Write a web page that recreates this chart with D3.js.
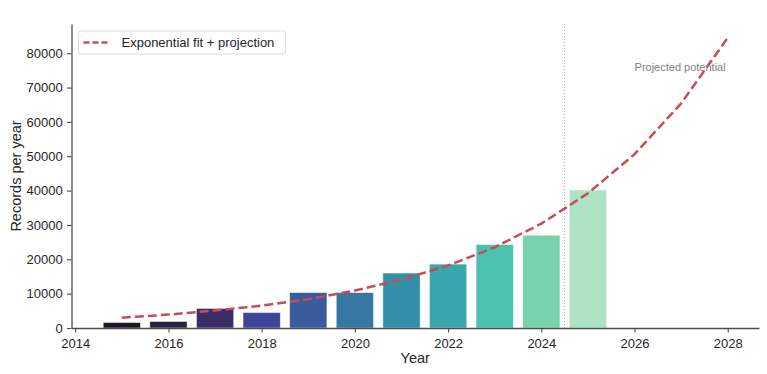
<!DOCTYPE html>
<html>
<head>
<meta charset="utf-8">
<script src="https://cdn.jsdelivr.net/npm/d3@7"></script>
<style>
  body { margin: 0; background: #fff; }
  text { font-family: "Liberation Sans", Arial, sans-serif; }
</style>
</head>
<body>
<div id="chart"></div>
<script>
// data
var years = [2015, 2016, 2017, 2018, 2019, 2020, 2021, 2022, 2023, 2024, 2025]
var records = [1600, 1900, 5700, 4500, 10300, 10300, 16000, 18600, 24300, 27000, 40200]
var fitYears = [2015, 2016, 2017, 2018, 2019, 2020, 2021, 2022, 2023, 2024, 2025, 2026, 2027, 2028]
var fitValues = [3000, 3900, 5100, 6500, 8400, 10900, 14100, 18200, 23500, 30400, 39200, 50600, 65400, 84500]
var xTicks = [2014, 2016, 2018, 2020, 2022, 2024, 2026, 2028]
var yTicks = [0, 10000, 20000, 30000, 40000, 50000, 60000, 70000, 80000]
var cutoffYear = 2024.5
var legendLabel = "Exponential fit + projection"
var noteLabel = "Projected potential"

var barColors = ["#1e1626", "#2b2140", "#3b2d6a", "#3c4598", "#3a5c9e", "#3778a2",
                 "#338fa8", "#38a6ac", "#4bc2ae", "#76d3ae", "#ade3c4"]

var W = 767, H = 374
var margin = {top: 24, right: 8, bottom: 46, left: 71.5}
var width = W - margin.left - margin.right,
    height = H - margin.top - margin.bottom

var svg = d3.select("#chart").append("svg")
    .attr("width", W).attr("height", H)
  .append("g")
    .attr("transform", "translate(" + margin.left + "," + margin.top + ")")

var x = d3.scaleLinear().domain([2013.92, 2028.67]).range([0, width])
var y = d3.scaleLinear().domain([0, 88500]).range([height, 0])

// bars
svg.selectAll("rect.bar")
  .data(years)
  .enter().append("rect")
    .attr("class", "bar")
    .attr("x", function(d) { return x(d - 0.4) })
    .attr("width", x(0.8) - x(0))
    .attr("y", function(d, i) { return y(records[i]) })
    .attr("height", function(d, i) { return height - y(records[i]) })
    .attr("fill", function(d, i) { return barColors[i] })
    .attr("stroke", "#ffffff")
    .attr("stroke-opacity", 0.6)
    .attr("stroke-width", 0.8)

// cutoff line
svg.append("line")
  .attr("x1", x(cutoffYear)).attr("x2", x(cutoffYear))
  .attr("y1", 0).attr("y2", height)
  .attr("stroke", "#aaaaaa").attr("stroke-width", 1)
  .attr("stroke-dasharray", "1,2")

// fit line
var line = d3.line()
  .x(function(d, i) { return x(fitYears[i]) })
  .y(function(d) { return y(d) })

svg.append("path")
  .datum(fitValues)
  .attr("d", line)
  .attr("fill", "none")
  .attr("stroke", "#c44e52")
  .attr("stroke-width", 2.5)
  .attr("stroke-dasharray", "9,4")

svg.append("text")
  .attr("x", x(2026)).attr("y", y(76000))
  .attr("dy", "0.35em")
  .attr("font-size", "11px")
  .attr("fill", "#808080")
  .text(noteLabel)

// axes
var xAxis = svg.append("g")
  .attr("transform", "translate(0," + height + ")")
  .call(d3.axisBottom(x).tickValues(xTicks).tickFormat(d3.format("d")).tickSize(4.5).tickSizeOuter(0))
var yAxis = svg.append("g")
  .call(d3.axisLeft(y).tickValues(yTicks).tickFormat(d3.format("d")).tickSize(4.5).tickSizeOuter(0))

;[xAxis, yAxis].forEach(function(a) {
  a.select(".domain").attr("stroke", "#4d4d4d").attr("stroke-width", 1.3)
  a.selectAll(".tick line").attr("stroke", "#4d4d4d").attr("stroke-width", 1.1)
  a.selectAll(".tick text").attr("fill", "#262626").attr("font-size", "13px")
    .attr("font-family", "Liberation Sans, Arial, sans-serif")
})
xAxis.selectAll(".tick text").attr("dy", "0.95em")
yAxis.selectAll(".tick text").attr("dx", "-0.1em")

svg.append("text")
  .attr("x", width / 2).attr("y", height + 35)
  .attr("text-anchor", "middle")
  .attr("font-size", "14.5px").attr("fill", "#262626")
  .text("Year")

svg.append("text")
  .attr("transform", "rotate(-90)")
  .attr("x", -height / 2).attr("y", -50.5)
  .attr("text-anchor", "middle")
  .attr("font-size", "14.5px").attr("fill", "#262626")
  .text("Records per year")

// legend
var lg = svg.append("g").attr("transform", "translate(7,7)")
lg.append("rect")
  .attr("width", 207).attr("height", 23).attr("rx", 2)
  .attr("fill", "#ffffff").attr("stroke", "#dddddd")
lg.append("line")
  .attr("x1", 5).attr("x2", 32).attr("y1", 11.5).attr("y2", 11.5)
  .attr("stroke", "#c44e52").attr("stroke-width", 2.5)
  .attr("stroke-dasharray", "6,3")
lg.append("text")
  .attr("x", 43).attr("y", 11.5).attr("dy", "0.35em")
  .attr("font-size", "13px").attr("fill", "#262626")
  .text(legendLabel)
</script>
</body>
</html>
